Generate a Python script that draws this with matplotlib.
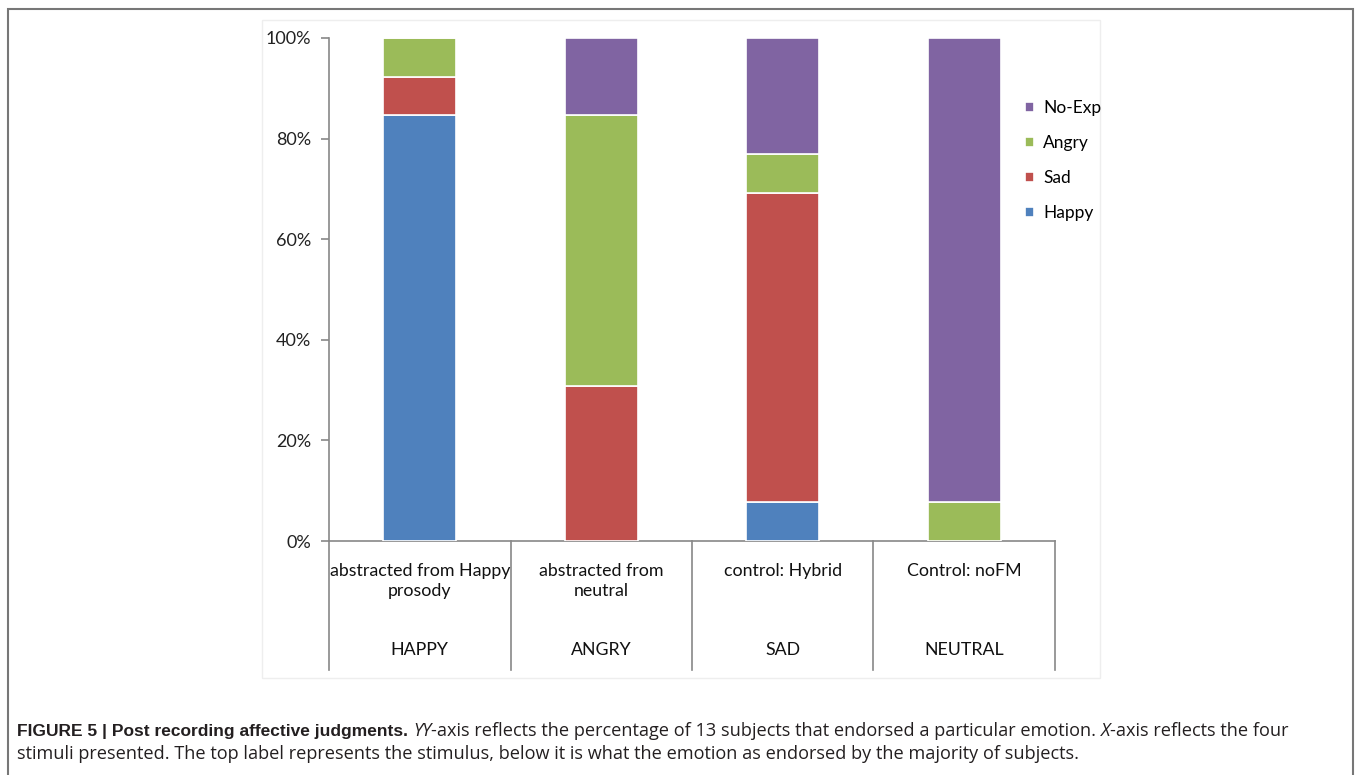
import matplotlib.pyplot as plt
from matplotlib.patches import Rectangle
from matplotlib.lines import Line2D
import numpy as np

# stimuli (top label) and the emotion endorsed by the majority (bottom label)
stimuli = ["abstracted from Happy\nprosody", "abstracted from\nneutral",
           "control: Hybrid", "Control: noFM"]
majority = ["HAPPY", "ANGRY", "SAD", "NEUTRAL"]

# percentage of 13 subjects choosing each response
responses = ["Happy", "Sad", "Angry", "No-Exp"]
happy = [84.6, 0.0, 7.7, 0.0]
sad = [7.7, 30.8, 61.5, 0.0]
angry = [7.7, 53.8, 7.7, 7.7]
no_exp = [0.0, 15.4, 23.1, 92.3]
colors = ["#4F81BD", "#C0504D", "#9BBB59", "#8064A2"]

W, H = 1355, 775
CHART_FONT = "Lato"
BOLD_FONT = ["Liberation Sans Narrow", "Liberation Sans"]
TEXT_FONT = ["Open Sans", "DejaVu Sans"]

fig = plt.figure(figsize=(W / 100, H / 100), dpi=100)
fig.patch.set_facecolor("white")


def fx(px):
    return px / W


def fy(py):
    return 1 - py / H


# outer frame of the figure panel and faint chart-area frame
fig.add_artist(Rectangle((fx(8), fy(782)), fx(1345), fy(9) - fy(782),
                         transform=fig.transFigure, fill=False,
                         edgecolor="#777777", linewidth=1.5))
fig.add_artist(Rectangle((fx(262), fy(678)), fx(838), fy(20) - fy(678),
                         transform=fig.transFigure, fill=False,
                         edgecolor="#eeeeee", linewidth=1.0))

ax = fig.add_axes([fx(329), fy(541), fx(1055 - 329), fy(38) - fy(541)])
x = np.arange(len(majority))
series = [happy, sad, angry, no_exp]
bottom = np.zeros(len(x))
handles = []
for name, vals, col in zip(responses, series, colors):
    vals = np.asarray(vals)
    b = ax.bar(x, vals, width=0.4, bottom=bottom, color=col,
               edgecolor="white", linewidth=1.2, label=name, zorder=3)
    handles.append(b)
    bottom += vals

ax.set_xlim(-0.5, len(x) - 0.5)
ax.set_ylim(0, 100)
ax.set_yticks(np.arange(0, 101, 20))
ax.set_yticklabels([f"{v}%" for v in range(0, 101, 20)],
                   fontfamily=CHART_FONT, fontsize=13, color="#222222")
ax.tick_params(axis="y", direction="out", length=6, width=1.2,
               color="#888888", pad=7)
ax.set_xticks([])
for side in ("top", "right", "bottom"):
    ax.spines[side].set_visible(False)
ax.spines["left"].set_color("#888888")
ax.spines["left"].set_linewidth(1.2)

# category table below the bars
trans = ax.get_xaxis_transform()
ax.add_line(Line2D([-0.5, len(x) - 0.5], [0, 0], transform=trans,
                   color="#888888", linewidth=1.2, clip_on=False))
low = -(670 - 541) / (541 - 38)
for edge in np.arange(-0.5, len(x), 1.0):
    ax.add_line(Line2D([edge, edge], [0, low], transform=trans,
                       color="#888888", linewidth=1.2, clip_on=False))
row1 = -(563 - 541) / (541 - 38)
row2 = -(650 - 541) / (541 - 38)
for xi, s, m in zip(x, stimuli, majority):
    ax.text(xi, row1, s, transform=trans, ha="center", va="top",
            fontfamily=CHART_FONT, fontsize=12.8, color="#111111",
            linespacing=1.3)
    ax.text(xi, row2, m, transform=trans, ha="center", va="center",
            fontfamily=CHART_FONT, fontsize=12.8, color="#111111")

fig.legend(handles[::-1], responses[::-1], loc="upper left",
           bbox_to_anchor=(fx(1018), fy(93)), frameon=False,
           prop={"family": CHART_FONT, "size": 12.5},
           handlelength=0.55, handleheight=0.55, handletextpad=0.5,
           labelspacing=1.1, borderaxespad=0)

# caption with mixed bold / italic / regular runs
renderer = fig.canvas.get_renderer()


def run_width(text, **kw):
    t = fig.text(0, 0, text + "l", **kw)
    ref = fig.text(0, 0, "l", **kw)
    w = t.get_window_extent(renderer).width - ref.get_window_extent(renderer).width
    t.remove()
    ref.remove()
    return w


def draw_runs(px, py, runs):
    for text, family, size, weight, style in runs:
        kw = dict(fontfamily=family, fontsize=size, fontweight=weight,
                  fontstyle=style, color="#231f20")
        fig.text(fx(px), fy(py), text, va="baseline", **kw)
        px += run_width(text, **kw)


cap = 13.1
line1 = [
    ("FIGURE 5 | Post recording affective judgments. ", BOLD_FONT, 12.5, "bold", "normal"),
    ("YY", TEXT_FONT, cap, "normal", "italic"),
    ("-axis reflects the percentage of 13 subjects that endorsed a particular emotion. ",
     TEXT_FONT, cap, "normal", "normal"),
    ("X", TEXT_FONT, cap, "normal", "italic"),
    ("-axis reflects the four", TEXT_FONT, cap, "normal", "normal"),
]
line2 = [
    ("stimuli presented. The top label represents the stimulus, below it is what "
     "the emotion as endorsed by the majority of subjects.", TEXT_FONT, cap,
     "normal", "normal"),
]
draw_runs(17, 736, line1)
draw_runs(17, 759, line2)

fig.savefig("out.png", dpi=100, facecolor="white")
